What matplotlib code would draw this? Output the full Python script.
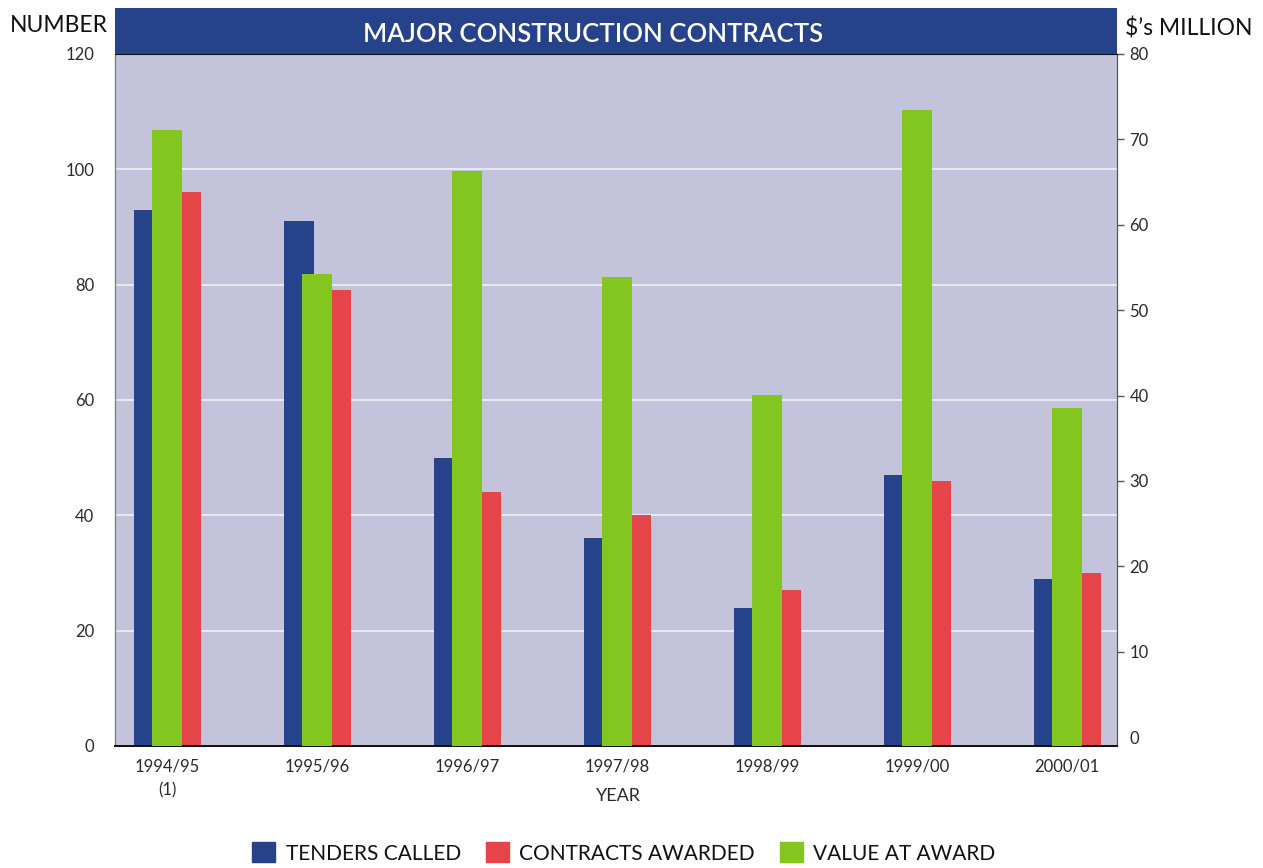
import numpy as np
import matplotlib
matplotlib.use("Agg")
import matplotlib.pyplot as plt
from matplotlib.patches import Patch

plt.rcParams['font.family'] = ['Lato', 'DejaVu Sans']

# data
years = ['1994/95\n(1)', '1995/96', '1996/97', '1997/98', '1998/99', '1999/00', '2000/01']
tenders = [93, 91, 50, 36, 24, 47, 29]
awarded = [96, 79, 44, 40, 27, 46, 30]
value = [71.1, 54.2, 66.3, 53.9, 40.1, 73.4, 38.5]

blue = '#26428B'
red = '#E54548'
green = '#83C61F'
bg = '#C3C3DB'

fig = plt.figure(figsize=(12.63, 8.68), dpi=100)
ax = fig.add_axes([115/1263, 1-746/868, 1002/1263, 692/868])
ax.set_facecolor(bg)

x = np.arange(len(years))
ax.bar(x - 0.22, tenders, width=0.2, align='edge', color=blue, zorder=2)
ax.bar(x + 0.1, awarded, width=0.125, align='edge', color=red, zorder=2)
ax.set_ylim(0, 120)
ax.set_xlim(-0.347, 6.333)
ax.set_yticks(range(0, 121, 20))
ax.tick_params(axis='y', length=0, pad=15, labelsize=12, labelcolor='#2a2a2a')
ax.set_xticks(x)
ax.set_xticklabels(years, fontsize=12, color='#2a2a2a', linespacing=1.6)
ax.tick_params(axis='x', length=0, pad=9)
for g in range(20, 101, 20):
    ax.axhline(g, color='#EDEDF5', lw=1.3, zorder=1)

ax2 = ax.twinx()
lo = -1.05
ax2.set_ylim(lo, 80)
ax2.bar(x - 0.1, [v - lo for v in value], bottom=lo, width=0.2, align='edge', color=green, zorder=3)
ax2.set_yticks(range(0, 81, 10))
ax2.tick_params(axis='y', length=5, width=1, color='#555555', pad=4, labelsize=12, labelcolor='#2a2a2a')
ax2.yaxis.get_major_ticks()[0].tick2line.set_visible(False)

for a in (ax, ax2):
    a.spines['top'].set_visible(False)
    a.spines['left'].set_color('#777777')
    a.spines['right'].set_color('#555555')
    a.spines['bottom'].set_color('#111111')
    a.spines['bottom'].set_linewidth(1.3)

# title bar
tb = fig.add_axes([115/1263, 1-54/868, 1002/1263, 46/868])
tb.set_facecolor(blue)
tb.set_xticks([])
tb.set_yticks([])
for s in tb.spines.values():
    s.set_visible(False)
tb.spines['bottom'].set_visible(True)
tb.spines['bottom'].set_color('#111111')
tb.text(593/1263, 1-34/868, 'MAJOR CONSTRUCTION CONTRACTS', color='white', fontsize=18.5,
        fontweight='semibold', ha='center', va='center', transform=fig.transFigure)

fig.text(10/1263, 1-25/868, 'NUMBER', fontsize=16.5, color='#111111', ha='left', va='center')
fig.text(1125/1263, 1-28/868, "$\u2019s MILLION", fontsize=16.5, color='#111111', ha='left', va='center')
fig.text(618/1263, 1-796/868, 'YEAR', fontsize=13, color='#2a2a2a', ha='center', va='center')

handles = [Patch(color=blue, label='TENDERS CALLED'),
           Patch(color=red, label='CONTRACTS AWARDED'),
           Patch(color=green, label='VALUE AT AWARD')]
fig.legend(handles=handles, loc='center', bbox_to_anchor=(624/1263, 1-853/868), ncol=3,
           frameon=False, fontsize=15, handlelength=1.1, handleheight=1.1,
           columnspacing=1.2, handletextpad=0.5, labelcolor='#111111')

fig.savefig('out.png', dpi=100, facecolor='white')
